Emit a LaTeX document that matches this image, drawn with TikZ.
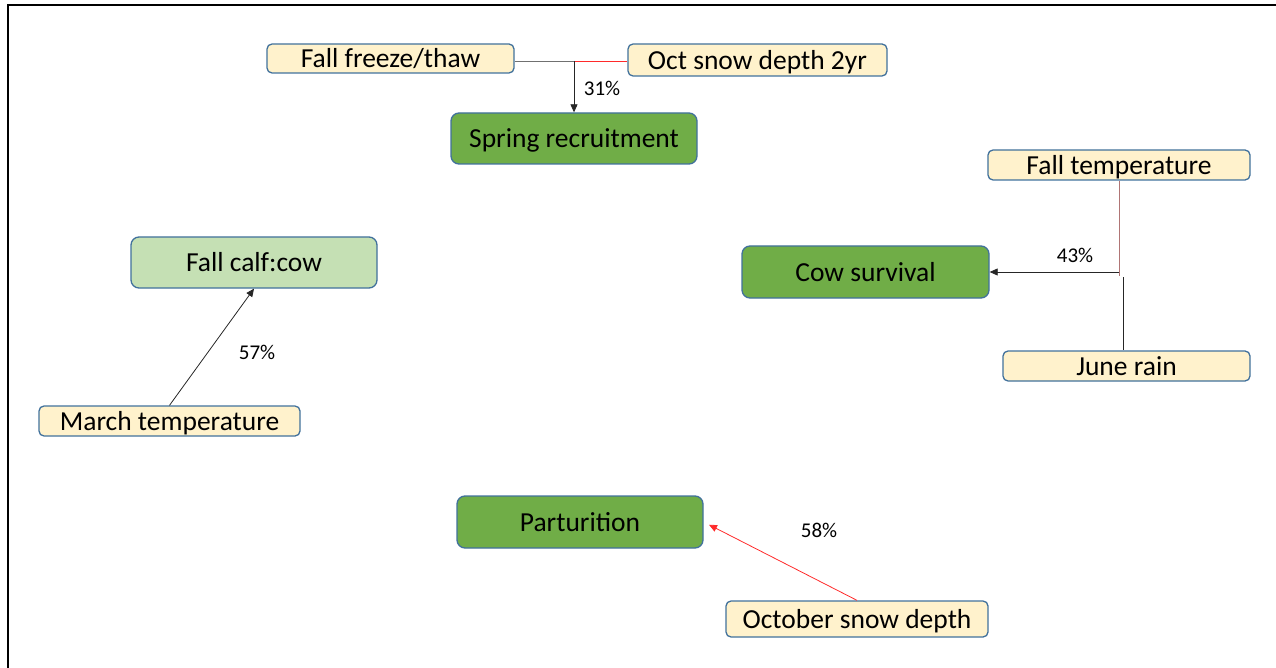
\documentclass[tikz,border=0pt]{standalone}
\usepackage{fontspec}
\setmainfont{Carlito}
\usetikzlibrary{arrows.meta}
\definecolor{boxline}{HTML}{41719C}
\definecolor{factorfill}{HTML}{FFF2CC}
\definecolor{outcomefill}{HTML}{70AD47}
\definecolor{lightoutcome}{HTML}{C5E0B4}
\definecolor{redlink}{HTML}{FF2A2A}
\definecolor{roselink}{HTML}{B07575}
\definecolor{greylink}{HTML}{707070}
\begin{document}
\begin{tikzpicture}[x=1pt,y=-1pt,
  boxtext/.style={inner sep=0pt, font=\fontsize{27.5}{32}\selectfont,
    text height=19.5pt, text depth=0.5pt},
  factor/.style={boxtext, draw=boxline, line width=1.3pt, fill=factorfill, rounded corners=5pt},
  outcome/.style={boxtext, draw=boxline, line width=1.3pt, fill=outcomefill, rounded corners=8pt},
  link/.style={line width=0.8pt, -{Triangle[length=8pt,width=7pt]}},
  pct/.style={font=\fontsize{21}{24}\selectfont}]
\useasboundingbox (0,0) rectangle (1276,668);
% frame
\draw[line width=1.6pt] (8,668) -- (8,5) -- (1276,5);

% outcomes
\node[outcome, minimum width=246pt, minimum height=51pt] (sr) at (574,138.5) {Spring recruitment};
\node[outcome, minimum width=247pt, minimum height=52pt] (cs) at (865.5,272) {Cow survival};
\node[outcome, fill=lightoutcome, minimum width=246pt, minimum height=51pt] (fc) at (254,262.5) {Fall calf:cow};
\node[outcome, minimum width=246pt, minimum height=52pt] (pt) at (580,522) {Parturition};

% factors
\node[factor, minimum width=247pt, minimum height=29pt] (ff) at (390.5,58.5) {Fall freeze/thaw};
\node[factor, minimum width=259pt, minimum height=32pt] (os) at (757.5,60) {Oct snow depth 2yr};
\node[factor, minimum width=262pt, minimum height=30pt] (ft) at (1119,165) {Fall temperature};
\node[factor, minimum width=247pt, minimum height=30pt] (jr) at (1126.5,366) {June rain};
\node[factor, minimum width=261pt, minimum height=30pt] (mt) at (169.5,421) {March temperature};
\node[factor, minimum width=262pt, minimum height=36pt] (od) at (857,619) {October snow depth};

% spring recruitment links
\coordinate (j1) at (574,61);
\draw[greylink, line width=0.8pt] (ff.east |- j1) -- (j1);
\draw[redlink, line width=0.9pt] (j1) -- (os.west |- j1);
\draw[link, black!85] (j1) -- (sr.north);
\node[pct] (p31) at (602,88) {31\%};

% cow survival links
\coordinate (j2a) at (1119,276);
\coordinate (j2b) at (1123,277);
\coordinate (j2) at (1119,272);
\draw[roselink, line width=0.8pt] (ft.south) -- (j2a);
\draw[black!85, line width=0.8pt] (j2b) -- (jr.north -| j2b);
\draw[link, black!85] (j2) -- (cs.east);
\node[pct] (p43) at (1075,255) {43\%};

% calf:cow link
\draw[link, black!85] (mt.north) -- (fc.south);
\node[pct] (p57) at (257,352) {57\%};

% parturition link
\draw[link, redlink, shorten >=6pt] (od.north) -- (pt.east);
\node[pct] (p58) at (819,530) {58\%};
\end{tikzpicture}
\end{document}
